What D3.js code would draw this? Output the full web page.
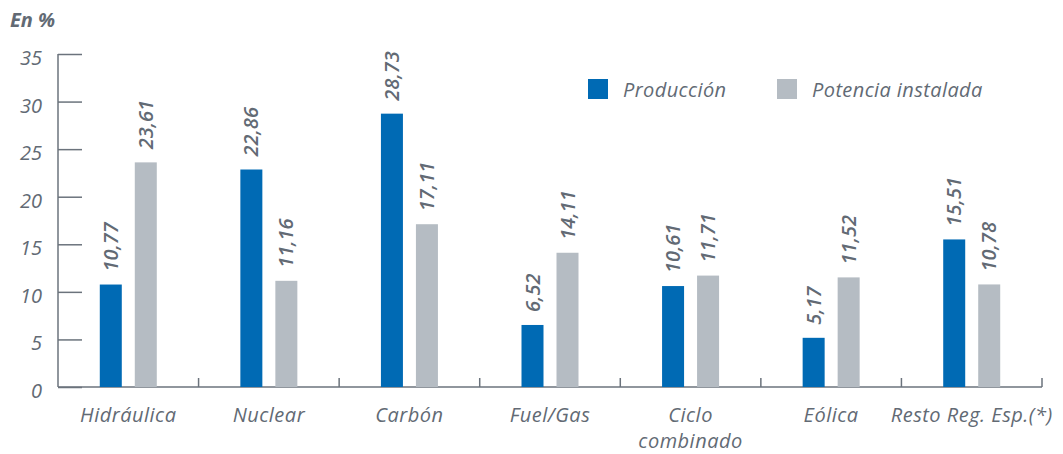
<!DOCTYPE html>
<html><head><meta charset="utf-8">
<script src="https://cdn.jsdelivr.net/npm/d3@7"></script>
<style>body{margin:0;background:#fff}svg{display:block}</style>
</head><body>
<script>
const categories = ["Hidráulica","Nuclear","Carbón","Fuel/Gas","Ciclo combinado","Eólica","Resto Reg. Esp.(*)"];
const produccion = [10.77,22.86,28.73,6.52,10.61,5.17,15.51];
const potencia = [23.61,11.16,17.11,14.11,11.71,11.52,10.78];
const seriesNames = ["Producción","Potencia instalada"];
const yTicks = [0,5,10,15,20,25,30,35];

const W=1063,H=454;
const colors=["#006ab4","#b5bcc3"];
const textColor="#626a74", axisColor="#6b737c";
const font="'Open Sans', 'Noto Sans', sans-serif";

const svg=d3.select("body").append("svg").attr("width",W).attr("height",H);
const x0=58,x1=1042,yTop=54,yBot=387;
const x=d3.scaleBand().domain(categories).range([x0,x1]).padding(0);
const y=d3.scaleLinear().domain([0,35]).range([yBot,yTop]);

// y axis
const ya=svg.append("g").attr("transform",`translate(${x0},0)`)
  .call(d3.axisRight(y).tickValues(yTicks).tickSize(24).tickFormat(""));
ya.select(".domain").attr("stroke",axisColor).attr("stroke-width",1.5).attr("d",`M0,${yTop}V${yBot}`);
ya.selectAll(".tick line").attr("stroke",axisColor).attr("stroke-width",1.5);
svg.append("g").selectAll("text").data(yTicks).join("text")
  .attr("x",42).attr("y",d=>y(d)+11).attr("text-anchor","end")
  .attr("font-family",font).attr("font-style","italic").attr("font-size",20)
  .attr("fill",textColor).text(d=>d);

// x axis
svg.append("line").attr("x1",x0).attr("x2",x1).attr("y1",yBot).attr("y2",yBot)
  .attr("stroke",axisColor).attr("stroke-width",1.5);
const bounds=categories.map(c=>x(c)).concat([x1]);
svg.append("g").selectAll("line").data(bounds.slice(1)).join("line")
  .attr("x1",d=>d).attr("x2",d=>d).attr("y1",yBot).attr("y2",yBot-9)
  .attr("stroke",axisColor).attr("stroke-width",1.5);

// bars
const bw=22, gap=13;
const offsets=[-(gap/2+bw), gap/2];
const vals=[produccion,potencia];
vals.forEach((arr,s)=>{
  const g=svg.append("g");
  g.selectAll("rect").data(arr).join("rect")
    .attr("x",(d,i)=>x(categories[i])+x.bandwidth()/2+offsets[s])
    .attr("width",bw)
    .attr("y",d=>y(d)).attr("height",d=>yBot-y(d))
    .attr("fill",colors[s]);
  g.selectAll("text").data(arr).join("text")
    .attr("transform",(d,i)=>`translate(${x(categories[i])+x.bandwidth()/2+offsets[s]+bw/2+7},${y(d)-13}) rotate(-90)`)
    .attr("font-family",font).attr("font-style","italic").attr("font-weight",600)
    .attr("font-size",20).attr("fill",textColor)
    .text(d=>d.toFixed(2).replace(".",","));
});

// category labels
const cl=svg.append("g");
categories.forEach(c=>{
  const lines=c==="Ciclo combinado"?["Ciclo","combinado"]:[c];
  lines.forEach((t,k)=>{
    cl.append("text").attr("x",x(c)+x.bandwidth()/2).attr("y",422+k*26)
      .attr("text-anchor","middle").attr("font-family",font).attr("font-style","italic")
      .attr("font-size",20).attr("letter-spacing",0.5).attr("fill",textColor).text(t);
  });
});

// legend
const lx=[588,777];
seriesNames.forEach((n,i)=>{
  svg.append("rect").attr("x",lx[i]).attr("y",79).attr("width",20).attr("height",20).attr("fill",colors[i]);
  svg.append("text").attr("x",lx[i]+35).attr("y",97).attr("font-family",font).attr("font-style","italic")
    .attr("font-size",20).attr("letter-spacing",0.4).attr("fill",textColor).text(n);
});

// unit title
svg.append("text").attr("x",10).attr("y",27).attr("font-family",font).attr("font-style","italic")
  .attr("font-weight",700).attr("font-size",20).attr("fill",textColor).text("En %");
</script>
</body></html>
